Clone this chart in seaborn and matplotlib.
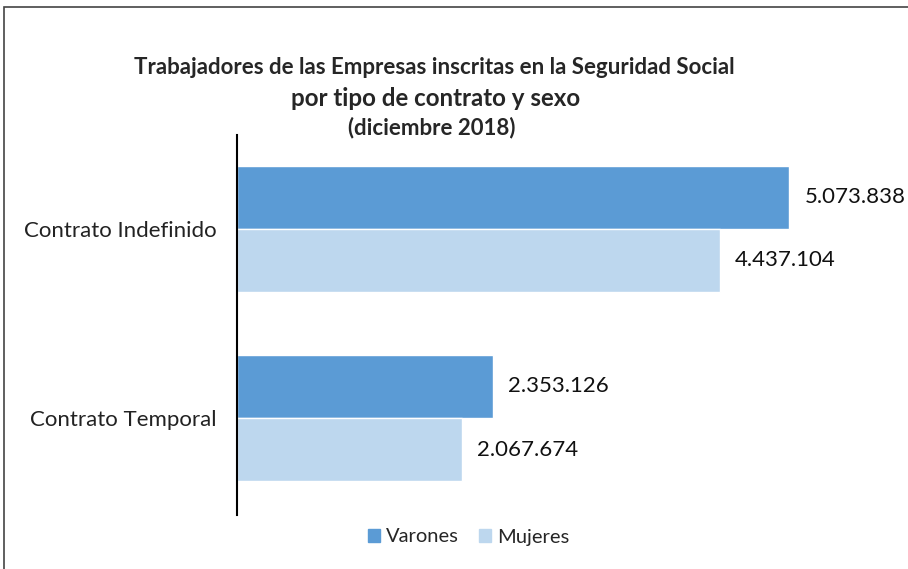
import matplotlib
matplotlib.use("Agg")
import matplotlib.pyplot as plt
import seaborn as sns
import pandas as pd
from matplotlib.patches import Rectangle

categorias = ["Contrato Indefinido", "Contrato Temporal"]
varones = [5073838, 2353126]
mujeres = [4437104, 2067674]
series = ["Varones", "Mujeres"]
colores = ["#5B9BD5", "#BDD7EE"]

df = pd.DataFrame({
    "categoria": categorias * 2,
    "valor": varones + mujeres,
    "sexo": [series[0]] * len(categorias) + [series[1]] * len(categorias),
})

sns.set_theme(style="white")
plt.rcParams["font.family"] = ["Lato", "DejaVu Sans"]

fig = plt.figure(figsize=(9.08, 5.69), dpi=100)
W, H = 908, 569
ax = fig.add_axes([237 / W, 1 - 515 / H, (879 - 237) / W, (515 - 135) / H])

sns.barplot(data=df, y="categoria", x="valor", hue="sexo", orient="h",
            palette=colores, width=0.667, ax=ax, legend=False, saturation=1)

ax.set_xlim(0, 5.9e6)
ax.set_ylim(1.513, -0.497)
ax.set_xlabel("")
ax.set_ylabel("")
ax.set_xticks([])
for s in ["top", "right", "bottom"]:
    ax.spines[s].set_visible(False)
ax.spines["left"].set_color("black")
ax.spines["left"].set_linewidth(1.5)
ax.tick_params(axis="y", length=0, pad=15, labelsize=16, labelcolor="#222222")

def fmt(v):
    return f"{v:,}".replace(",", ".")

for cont in ax.containers:
    for bar in cont:
        w = bar.get_width()
        ax.text(w + 0.14e6, bar.get_y() + bar.get_height() / 2, fmt(int(round(w))),
                va="center", ha="left", fontsize=16, color="#111111")

fig.text(434 / W, 1 - 67 / H, "Trabajadores de las Empresas inscritas en la Seguridad Social",
         ha="center", va="center", fontsize=16, fontweight="bold", color="#262626")
fig.text(436 / W, 1 - 99 / H, "por tipo de contrato y sexo",
         ha="center", va="center", fontsize=17.4, fontweight="bold", color="#262626")
fig.text(432 / W, 1 - 128 / H, "(diciembre 2018)",
         ha="center", va="center", fontsize=16, fontweight="bold", color="#262626")

handles = [Rectangle((0, 0), 1, 1, color=c) for c in colores]
fig.legend(handles, series, loc="center", bbox_to_anchor=(469 / W, 1 - 537 / H),
           ncol=2, frameon=False, fontsize=14.5, handlelength=0.6, handleheight=0.6,
           handletextpad=0.3, columnspacing=1.0)

fig.patches.append(Rectangle((4 / W, -0.1), 1.2, 1 - 7 / H + 0.1, transform=fig.transFigure,
                             fill=False, edgecolor="#444444", linewidth=1.2))

fig.savefig("out.png", dpi=100)
